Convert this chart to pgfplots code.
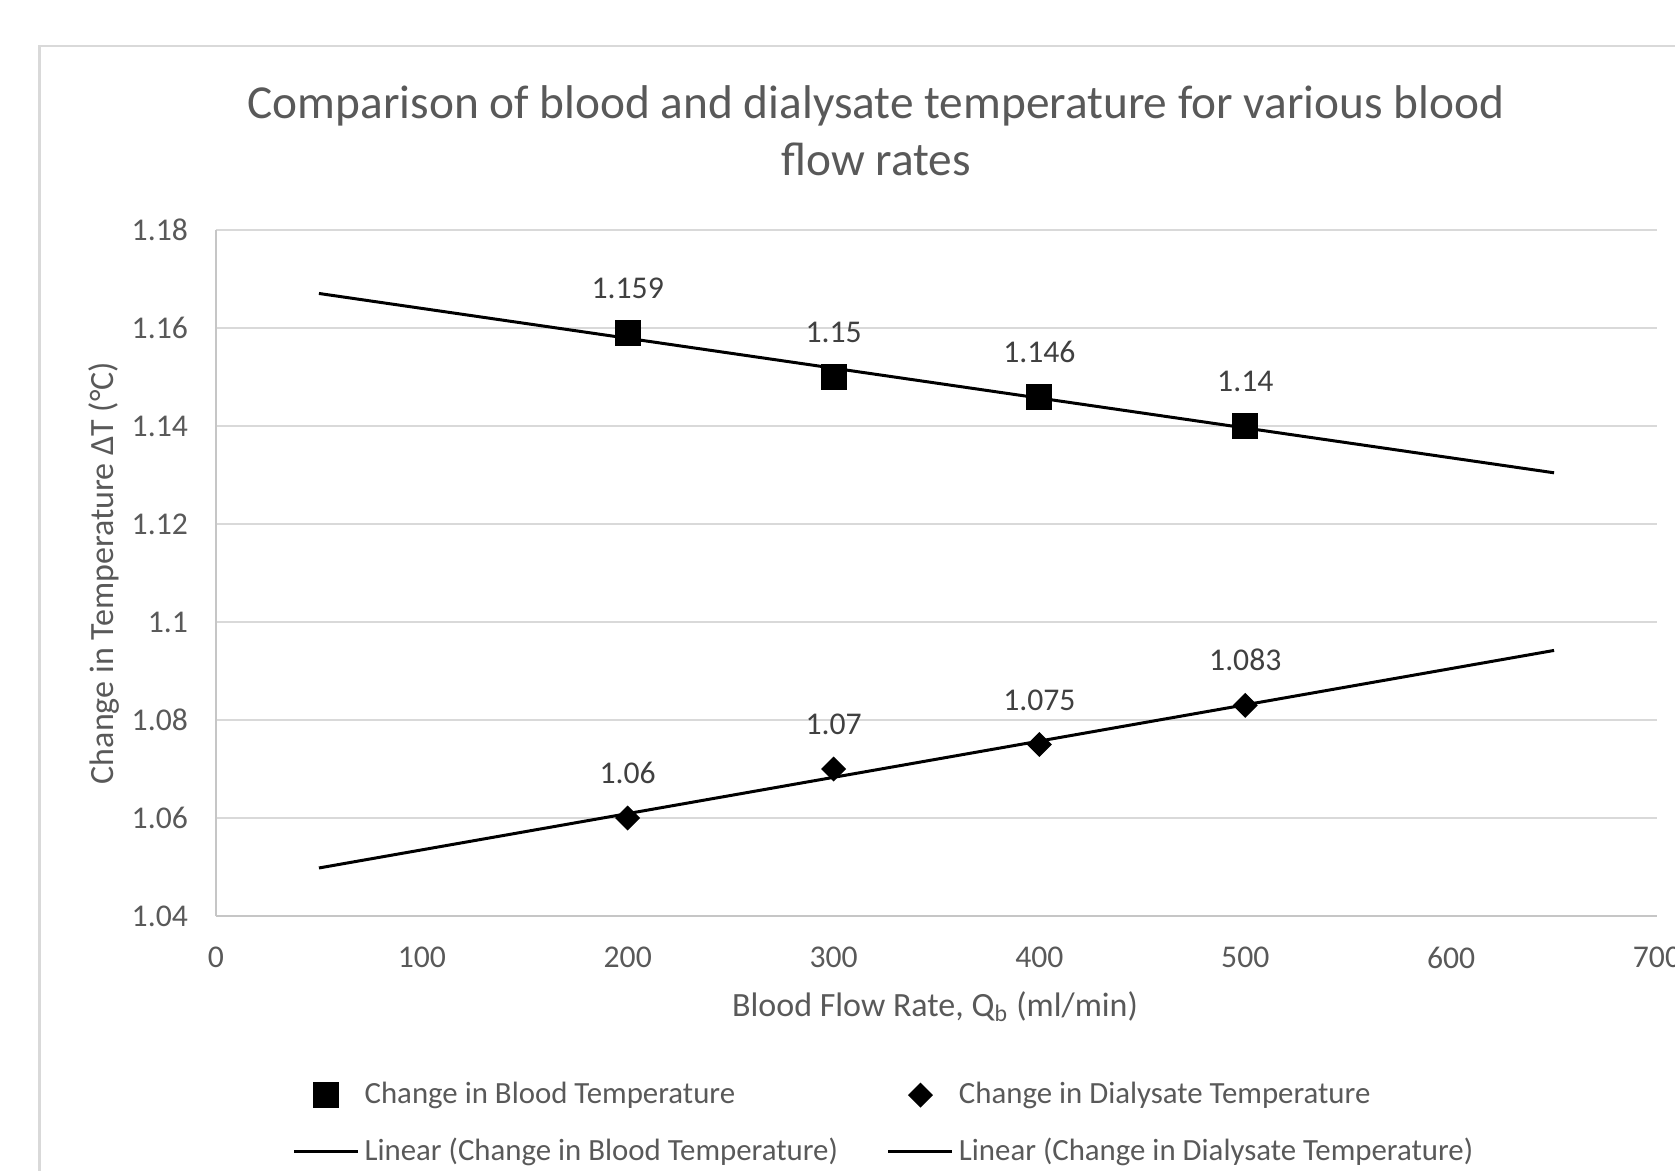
\documentclass[border=0pt]{standalone}
\usepackage{pgfplots}
\pgfplotsset{compat=1.18}
\usepackage{fontspec}
\setmainfont{Carlito}
\definecolor{txt}{HTML}{595959}
\definecolor{lbl}{HTML}{404040}
\definecolor{grd}{HTML}{D9D9D9}
\definecolor{axl}{HTML}{C6C6C6}
\begin{document}
\begin{tikzpicture}
\useasboundingbox (-64.8pt,-76.2pt) rectangle (437.7pt,274.8pt);
\clip (-64.8pt,-76.2pt) rectangle (437.7pt,274.8pt);
\draw[grd, line width=0.8pt] (-52.95pt,-90pt) -- (-52.95pt,261pt) -- (450pt,261pt);
\begin{axis}[
  at={(0pt,0pt)}, anchor=south west,
  scale only axis, width=432.3pt, height=205.8pt,
  xmin=0, xmax=700, ymin=1.04, ymax=1.18,
  xtick={0,100,200,300,400,500,600,700},
  ytick={1.04,1.06,1.08,1.1,1.12,1.14,1.16,1.18},
  axis x line*=bottom, axis y line*=left,
  axis line style={axl, line width=0.6pt},
  ymajorgrids, grid style={grd, line width=0.6pt},
  major tick length=0pt,
  tick label style={font=\fontsize{9.5}{11}\selectfont, text=txt},
  /pgf/number format/assume math mode=true,
  yticklabel style={xshift=-4.9pt},
  xticklabel style={yshift=-5.8pt},
  xlabel={Blood Flow Rate, Q\textsubscript{b} (ml/min)},
  ylabel={Change in Temperature ΔT (°C)},
  label style={font=\fontsize{10.2}{12}\selectfont, text=txt},
  xlabel style={at={(axis description cs:0.499,-0.147)}, anchor=base},
  ylabel style={at={(axis description cs:-0.0777,0.5)}, anchor=center},
  legend columns=2,
  legend cell align=left,
  legend style={at={(axis description cs:0.0527,-0.2335)}, anchor=north west,
    draw=none, fill=none, inner sep=0pt, font=\fontsize{9.25}{11}\selectfont, text=txt,
    row sep=5.9pt, nodes={inner sep=1.5pt},
    /tikz/every even column/.append style={column sep=13.2pt}},
  legend image code/.code={\draw[mark repeat=2,mark phase=2,#1] plot coordinates {(0pt,0pt) (9.6pt,0pt) (19.2pt,0pt)};},
  nodes near coords style={anchor=base, yshift=10.3pt, inner sep=0pt, font=\fontsize{9.5}{11}\selectfont, text=lbl},
]
\addplot[only marks, mark=square*, mark size=3.7pt, black, nodes near coords, point meta=explicit symbolic]
  coordinates {(200,1.159)[1.159] (300,1.15)[1.15] (400,1.146)[1.146] (500,1.14)[1.14]};
\addplot[only marks, mark=square*, mark size=2.45pt, mark options={rotate=45}, black, nodes near coords, point meta=explicit symbolic]
  coordinates {(200,1.06)[1.06] (300,1.07)[1.07] (400,1.075)[1.075] (500,1.083)[1.083]};
\addplot[black, line width=0.9pt, no marks] coordinates {(50,1.16705) (650,1.13045)};
\addplot[black, line width=0.9pt, no marks] coordinates {(50,1.0498) (650,1.0942)};
\legend{Change in Blood Temperature, Change in Dialysate Temperature, Linear (Change in Blood Temperature), Linear (Change in Dialysate Temperature)}
\end{axis}
\node[anchor=base, font=\fontsize{14.2}{17}\selectfont, text=txt] at (198pt,239.1pt) {Comparison of blood and dialysate temperature for various blood};
\node[anchor=base, font=\fontsize{14.2}{17}\selectfont, text=txt] at (198pt,222.0pt) {flow rates};
\end{tikzpicture}
\end{document}
